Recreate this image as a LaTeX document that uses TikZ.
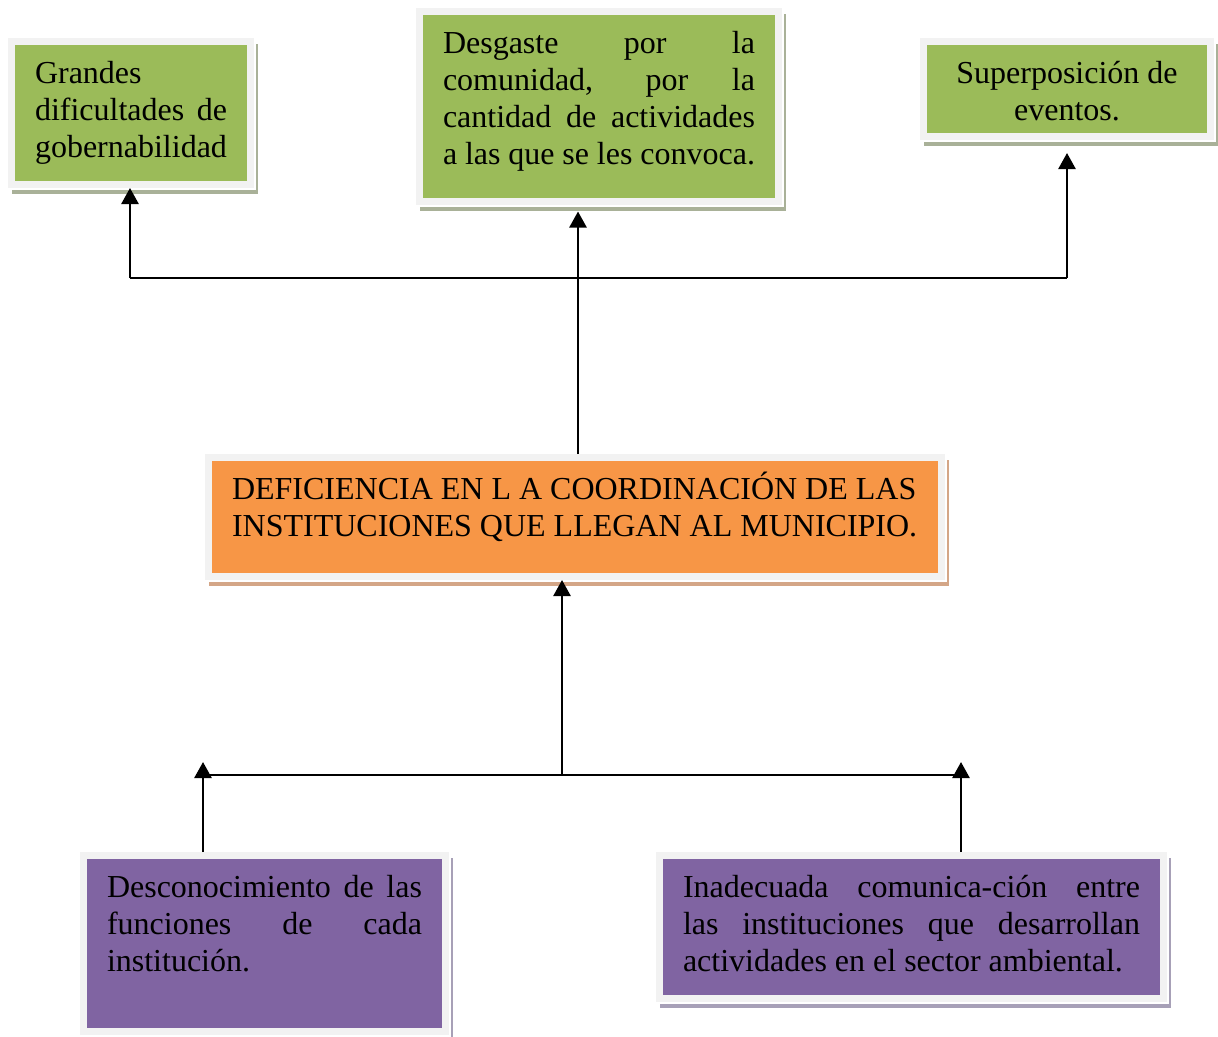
\documentclass[tikz,border=0pt]{standalone}
\usepackage{fontspec}
\setmainfont{Liberation Serif}
\usepackage{xcolor}
\usepackage{tikz}
\usetikzlibrary{arrows.meta,shadows,calc}
\definecolor{ptgreen}{HTML}{9BBB59}
\definecolor{ptorange}{HTML}{F79646}
\definecolor{ptpurple}{HTML}{8064A2}
\definecolor{ptframe}{HTML}{F2F2F2}
\definecolor{ptgreenshade}{HTML}{A9B198}
\definecolor{ptorangeshade}{HTML}{D4A687}
\definecolor{ptpurpleshade}{HTML}{A7A0B7}
% text block of a box: width, height, lines (first baseline fixed from the top)
\newcommand{\pttext}[3]{\parbox[c][#2][t]{#1}{\rule{0pt}{38.5pt}#3}}
\newcommand{\ptjust}[1]{\makebox[\linewidth][s]{#1}}
\tikzset{
  ptbox/.style={
    rectangle, draw=ptframe, line width=7pt, inner xsep=23.5pt, inner ysep=3.5pt,
    font=\fontsize{32}{37}\selectfont
  },
  ptshade/.style={
    drop shadow={shadow xshift=3.5pt,shadow yshift=-6pt,fill=#1,draw=#1,line width=7pt,opacity=1},
    drop shadow={shadow xshift=1.5pt,shadow yshift=-2pt,fill=white,draw=white,line width=7pt,opacity=1}
  },
  pteffect/.style={ptbox, ptshade=ptgreenshade, fill=ptgreen},
  ptproblem/.style={ptbox, ptshade=ptorangeshade, fill=ptorange},
  ptcause/.style={ptbox, ptshade=ptpurpleshade, fill=ptpurple},
  ptedge/.style={-{Triangle[length=16pt,width=17pt]},line width=2.5pt},
  ptline/.style={line width=2.5pt}
}

\begin{document}
\begin{tikzpicture}[x=1pt,y=-1pt]
\useasboundingbox (0,0) rectangle (1218,1036);
% effects
\node[pteffect] (grandes) at (131,113) {\pttext{192pt}{136pt}{Grandes\\
  \ptjust{dificultades de}\\
  gobernabilidad}};
\node[pteffect] (desgaste) at (599,106.5) {\pttext{312pt}{183pt}{\ptjust{Desgaste por la}\\
  \ptjust{comunidad, por la}\\
  \ptjust{cantidad de actividades}\\
  a las que se les convoca.}};
\node[pteffect] (superposicion) at (1067,89) {\pttext{240pt}{88pt}{\centering Superposición de\\
  eventos.}};
% central problem
\node[ptproblem] (deficiencia) at (575,517) {\pttext{686pt}{112pt}{DEFICIENCIA EN L A COORDINACIÓN DE LAS\\
  INSTITUCIONES QUE LLEGAN AL MUNICIPIO.}};
% causes
\node[ptcause] (desconocimiento) at (264.5,943.5) {\pttext{315pt}{169pt}{\ptjust{Desconocimiento de las}\\
  \ptjust{funciones de cada}\\
  institución.}};
\node[ptcause] (inadecuada) at (911.5,927) {\pttext{457pt}{136pt}{\ptjust{Inadecuada comunica-ción entre}\\
  \ptjust{las instituciones que desarrollan}\\
  actividades en el sector ambiental.}};

% upper connectors
\coordinate (jl) at (130,278);
\coordinate (jr) at (1067,278);
\coordinate (jm) at (578,278);
\draw[ptline] (jl) -- (jr);
\draw[ptedge] (jl) -- (grandes.south -| jl);
\draw[ptedge,shorten >=13pt] (jr) -- (superposicion.south -| jr);
\draw[ptedge,shorten >=6.5pt] (deficiencia.north -| jm) -- (desgaste.south -| jm);

% lower connectors
\coordinate (bl) at (203,775);
\coordinate (br) at (961,775);
\coordinate (bm) at (562,775);
\coordinate (ltip) at (203,762);
\coordinate (rtip) at (961,762);
\draw[ptline] (bl) -- (br);
\draw[ptedge] (bm) -- (deficiencia.south -| bm);
\draw[ptedge] (desconocimiento.north -| ltip) -- (ltip);
\draw[ptedge] (inadecuada.north -| rtip) -- (rtip);
\end{tikzpicture}
\end{document}
